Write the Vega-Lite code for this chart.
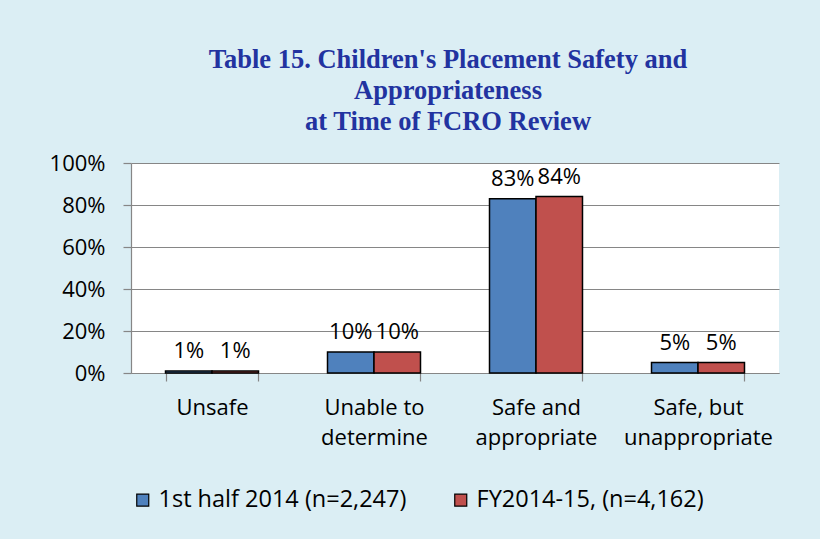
{
  "$schema": "https://vega.github.io/schema/vega-lite/v6.json",
  "width": 648,
  "height": 210,
  "autosize": {"type": "none"},
  "padding": {"left": 131, "top": 163, "right": 41, "bottom": 166},
  "background": "#dbeef4",
  "config": {
    "view": {"fill": "white", "stroke": null},
    "font": "Open Sans",
    "axis": {"labelFont": "Open Sans", "labelFontSize": 22, "labelColor": "black", "domainColor": "#868686", "tickColor": "#868686", "gridColor": "#868686", "domainWidth": 1.2, "tickWidth": 1.2, "gridWidth": 1.2}
  },
  "title": {
    "text": ["Table 15. Children's Placement Safety and", "Appropriateness", "at Time of FCRO Review"],
    "font": "Liberation Serif",
    "fontSize": 26.5,
    "fontWeight": "bold",
    "color": "#2233a0",
    "lineHeight": 31,
    "anchor": "middle",
    "offset": 17,
    "dx": -7
  },
  "data": {
    "values": [
      {"category": "Unsafe", "series": "1st half 2014 (n=2,247)", "value": 0.01},
      {"category": "Unsafe", "series": "FY2014-15, (n=4,162)", "value": 0.01},
      {"category": "Unable to determine", "series": "1st half 2014 (n=2,247)", "value": 0.10},
      {"category": "Unable to determine", "series": "FY2014-15, (n=4,162)", "value": 0.10},
      {"category": "Safe and appropriate", "series": "1st half 2014 (n=2,247)", "value": 0.83},
      {"category": "Safe and appropriate", "series": "FY2014-15, (n=4,162)", "value": 0.84},
      {"category": "Safe, but unappropriate", "series": "1st half 2014 (n=2,247)", "value": 0.05},
      {"category": "Safe, but unappropriate", "series": "FY2014-15, (n=4,162)", "value": 0.05}
    ]
  },
  "encoding": {
    "x": {
      "field": "category",
      "type": "nominal",
      "sort": null,
      "scale": {"paddingInner": 0.426, "paddingOuter": 0.213},
      "axis": {
        "title": null,
        "labelAngle": 0,
        "tickBand": "extent",
        "tickSize": 8,
        "labelPadding": 16,
        "labelLineHeight": 30,
        "labelBaseline": "top",
        "labelLimit": 0,
        "labelExpr": "datum.value == 'Unable to determine' ? ['Unable to', 'determine'] : datum.value == 'Safe and appropriate' ? ['Safe and', 'appropriate'] : datum.value == 'Safe, but unappropriate' ? ['Safe, but', 'unappropriate'] : datum.value"
      }
    },
    "xOffset": {"field": "series", "type": "nominal", "sort": null},
    "y": {
      "field": "value",
      "type": "quantitative",
      "scale": {"domain": [0, 1]},
      "axis": {"title": null, "values": [0, 0.2, 0.4, 0.6, 0.8, 1], "format": ".0%", "tickSize": 8, "labelPadding": 18}
    }
  },
  "layer": [
    {
      "mark": {"type": "bar", "stroke": "black", "strokeWidth": 1.5},
      "encoding": {
        "color": {
          "field": "series",
          "type": "nominal",
          "sort": null,
          "scale": {"range": ["#4f81bd", "#c0504d"]},
          "legend": {
            "title": null,
            "orient": "bottom",
            "direction": "horizontal",
            "symbolType": "square",
            "symbolSize": 144,
            "symbolStrokeColor": "black",
            "symbolStrokeWidth": 1.2,
            "labelFontSize": 23.5,
            "labelColor": "black",
            "labelFont": "Open Sans",
            "labelLimit": 0,
            "labelOffset": 4,
            "columnPadding": 42,
            "offset": 40
          }
        }
      }
    },
    {
      "mark": {"type": "text", "baseline": "bottom", "dy": -8, "fontSize": 22, "color": "black"},
      "encoding": {
        "text": {"field": "value", "type": "quantitative", "format": ".0%"}
      }
    }
  ]
}
